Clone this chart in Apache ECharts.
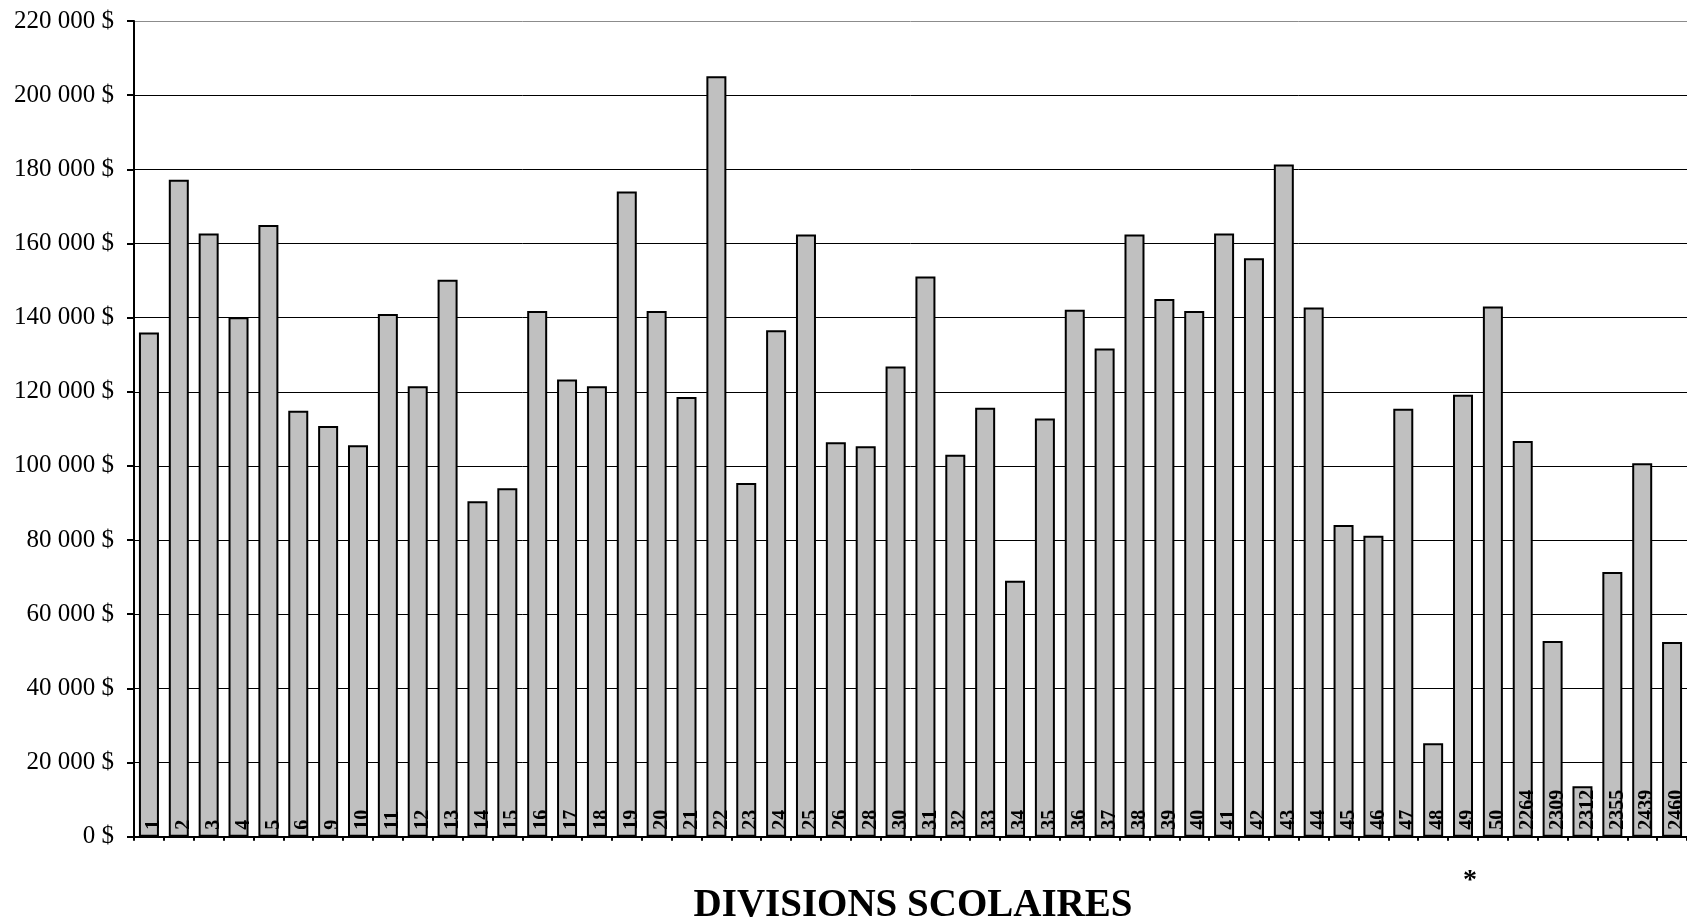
<!DOCTYPE html>
<html>
<head>
<meta charset="utf-8">
<script src="https://cdn.jsdelivr.net/npm/echarts@6/dist/echarts.min.js"></script>
<style>
  html, body { margin: 0; padding: 0; background: #fff; }
  #chart { width: 1687px; height: 922px; }
</style>
</head>
<body>
<div id="chart"></div>
<script>
const categories = ['1','2','3','4','5','6','9','10','11','12','13','14','15','16','17','18','19','20','21','22','23','24','25','26','28','30','31','32','33','34','35','36','37','38','39','40','41','42','43','44','45','46','47','48','49','50','2264','2309','2312','2355','2439','2460'];
const values = [136000,177200,162700,140100,165000,114900,110800,105600,141000,121500,150200,90500,94000,141800,123300,121500,174000,141800,118600,205100,95400,136600,162400,106400,105300,126800,151100,103000,115700,69000,112800,142100,131700,162400,145000,141800,162700,156000,181300,142700,84100,81200,115400,25200,119200,143000,106700,52800,13600,71400,100700,52500];
const starredCategories = ['49'];
const yTickValues = [0,20000,40000,60000,80000,100000,120000,140000,160000,180000,200000,220000];
const yTickLabels = ['0 $','20 000 $','40 000 $','60 000 $','80 000 $','100 000 $','120 000 $','140 000 $','160 000 $','180 000 $','200 000 $','220 000 $'];
const axisTitle = 'DIVISIONS SCOLAIRES';

const chart = echarts.init(document.getElementById('chart'));
const serif = '"Liberation Serif", "Times New Roman", serif';
const gridColors = yTickValues.map((v, i) => i === yTickValues.length - 1 ? '#8c8c8c' : '#000');

chart.setOption({
  animation: false,
  backgroundColor: '#fff',
  title: {
    text: axisTitle,
    left: 908,
    textAlign: 'center',
    top: 881,
    textStyle: { fontFamily: serif, fontWeight: 'bold', fontSize: 39, color: '#000' }
  },
  grid: { left: 134, top: 21, width: 1560, bottom: 85.3, containLabel: false },
  xAxis: {
    type: 'category',
    data: categories,
    boundaryGap: true,
    axisLine: { lineStyle: { color: '#000', width: 2 } },
    axisTick: { show: true, length: 4, lineStyle: { color: '#000', width: 2 } },
    axisLabel: {
      interval: 0,
      margin: 30,
      padding: [0, 0, 0, 14],
      fontFamily: serif,
      fontSize: 28,
      fontWeight: 'bold',
      color: '#000',
      formatter: v => starredCategories.includes(v) ? '*' : ''
    },
    splitLine: { show: false }
  },
  yAxis: {
    type: 'value',
    min: 0,
    max: 220000,
    interval: 20000,
    axisLine: { show: true, lineStyle: { color: '#000', width: 2 } },
    axisTick: { show: true, length: 7, lineStyle: { color: '#000', width: 2 } },
    axisLabel: {
      margin: 20,
      fontFamily: serif,
      fontSize: 25,
      color: '#000',
      formatter: v => yTickLabels[yTickValues.indexOf(v)]
    },
    splitLine: { show: true, lineStyle: { color: gridColors, width: 1 } }
  },
  series: [{
    type: 'bar',
    data: values,
    barWidth: 20,
    itemStyle: { color: '#c0c0c0', borderColor: '#000', borderWidth: 2 },
    label: {
      show: true,
      position: 'insideBottom',
      distance: 7,
      rotate: 90,
      align: 'left',
      verticalAlign: 'middle',
      offset: [0, 5],
      formatter: '{b}',
      fontFamily: serif,
      fontWeight: 'bold',
      fontSize: 20,
      color: '#000'
    }
  }]
});
</script>
</body>
</html>
